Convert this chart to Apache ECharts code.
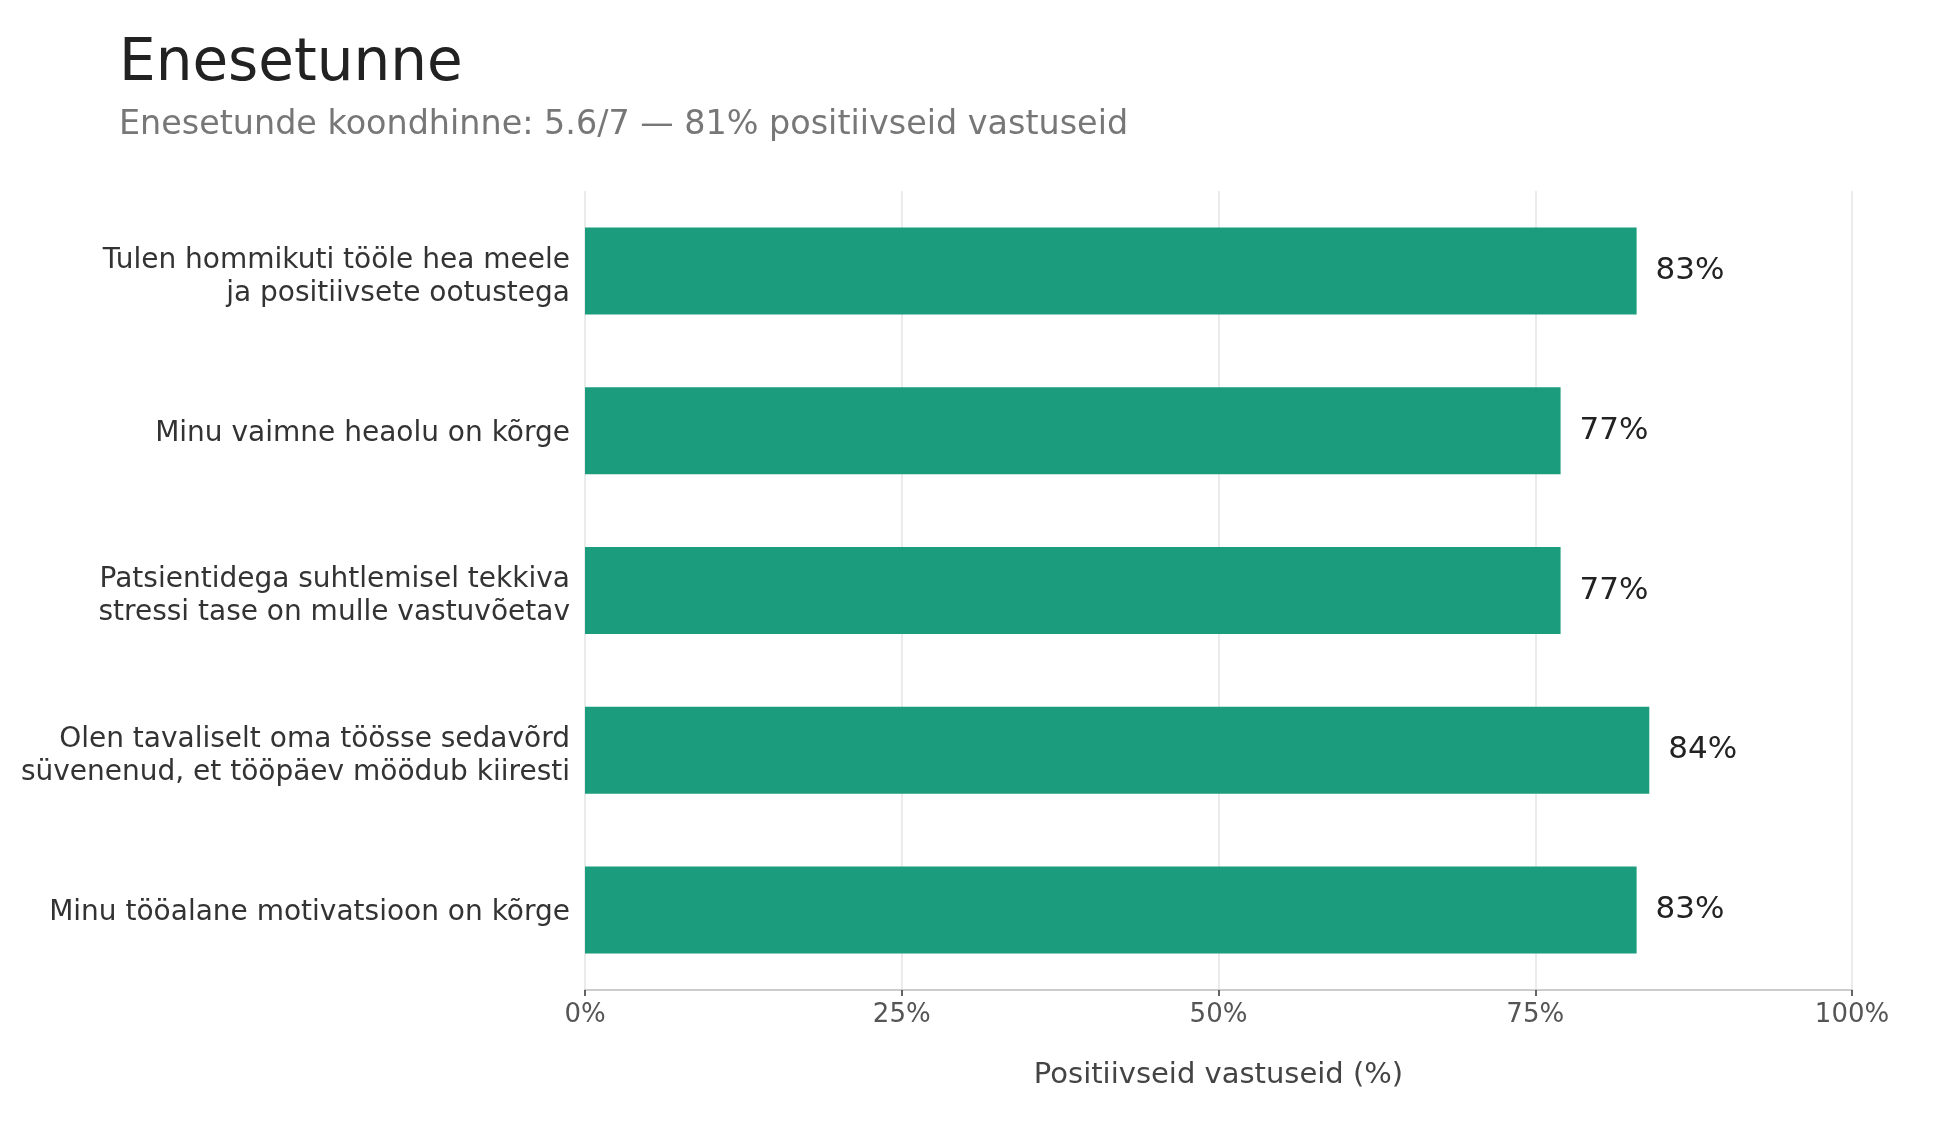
<!DOCTYPE html>
<html>
<head>
<meta charset="utf-8">
<script src="https://cdn.jsdelivr.net/npm/echarts@6/dist/echarts.min.js"></script>
<style>
html,body{margin:0;padding:0;background:#fff;}
#main{width:1950px;height:1125px;}
</style>
</head>
<body>
<div id="main"></div>
<script>
var categories = [
    'Tulen hommikuti tööle hea meele\nja positiivsete ootustega',
    'Minu vaimne heaolu on kõrge',
    'Patsientidega suhtlemisel tekkiva\nstressi tase on mulle vastuvõetav',
    'Olen tavaliselt oma töösse sedavõrd\nsüvenenud, et tööpäev möödub kiiresti',
    'Minu tööalane motivatsioon on kõrge'
];
var values = [83, 77, 77, 84, 83];
var xTicks = [0, 25, 50, 75, 100];

var font = 'DejaVu Sans';
var main = document.getElementById('main');
var mychart = echarts.init(main);
var option = {
    backgroundColor: '#fff',
    animation: false,
    title: [
        {text: 'Enesetunne', left: 114, top: 31,
            textStyle: {fontFamily: font, fontSize: 58, fontWeight: 'normal', color: '#222'}},
        {text: 'Enesetunde koondhinne: 5.6/7 — 81% positiivseid vastuseid', left: 114, top: 104,
            textStyle: {fontFamily: font, fontSize: 33.4, fontWeight: 'normal', color: '#777'}}
    ],
    grid: {left: 585, right: 98, top: 191, bottom: 135},
    xAxis: {
        type: 'value', min: xTicks[0], max: xTicks[xTicks.length - 1], interval: 25,
        name: 'Positiivseid vastuseid (%)', nameLocation: 'middle', nameGap: 71,
        nameTextStyle: {fontFamily: font, fontSize: 29, color: '#444'},
        axisLine: {show: true, lineStyle: {color: '#cccccc', width: 2}},
        axisTick: {show: true, length: 6, lineStyle: {color: '#333', width: 1.5}},
        axisLabel: {fontFamily: font, fontSize: 26, color: '#555', margin: 12, formatter: '{value}%'},
        splitLine: {show: true, lineStyle: {color: '#e4e4e4', width: 1.5}}
    },
    yAxis: {
        type: 'category', data: categories, inverse: true,
        axisLine: {show: false}, axisTick: {show: false},
        axisLabel: {
            margin: 15, align: 'right',
            // spacer line on top nudges the label block down a little
            formatter: function (v) {
                var lines = v.split('\n');
                return '{s' + lines.length + '| }\n' + lines.map(function (l) { return '{a|' + l + '}'; }).join('\n');
            },
            rich: {
                a: {fontFamily: font, fontSize: 28, lineHeight: 33, color: '#333'},
                s1: {fontSize: 1, lineHeight: 6},
                s2: {fontSize: 1, lineHeight: 12}
            }
        }
    },
    series: [{
        type: 'bar', data: values, barWidth: 87,
        itemStyle: {color: '#1b9c7c'},
        label: {show: true, position: 'right', distance: 19, formatter: '{c}%',
            fontFamily: font, fontSize: 31, color: '#222'}
    }]
};
mychart.setOption(option);
</script>
</body>
</html>
